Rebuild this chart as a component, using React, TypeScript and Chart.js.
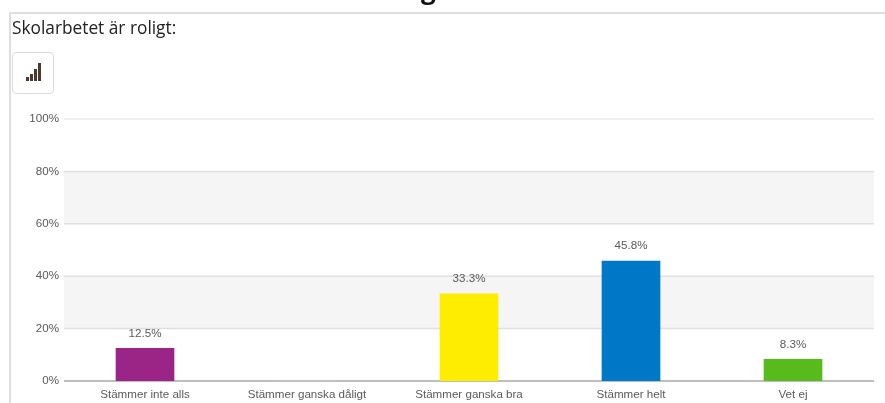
import React, { useEffect, useRef } from "react";
import { Chart, registerables } from "chart.js";

Chart.register(...registerables);

const categories = ["Stämmer inte alls", "Stämmer ganska dåligt", "Stämmer ganska bra", "Stämmer helt", "Vet ej"];
const values = [12.5, 0, 33.3, 45.8, 8.3];
const barColors = ["#9b2586", "#cccccc", "#ffed00", "#0078c8", "#57bb1b"];
const bands = [[20, 40], [60, 80]];
const heading = "Skolarbetet är roligt:";

const FONT = "'Liberation Sans', Arial, sans-serif";
const FONT_SIZE = 11.6;

const bandPlugin = {
  id: "bands",
  beforeDatasetsDraw(chart: any) {
    const { ctx, chartArea, scales } = chart;
    ctx.save();
    ctx.fillStyle = "#f5f5f5";
    for (const [lo, hi] of bands) {
      const top = scales.y.getPixelForValue(hi);
      const bottom = scales.y.getPixelForValue(lo);
      ctx.fillRect(chartArea.left, top, chartArea.right - chartArea.left, bottom - top);
    }
    ctx.restore();
  },
};

const gridPlugin = {
  id: "lines",
  beforeDatasetsDraw(chart: any) {
    const { ctx, chartArea, scales } = chart;
    ctx.save();
    for (const tick of scales.y.ticks) {
      const y = scales.y.getPixelForValue(tick.value);
      ctx.strokeStyle = tick.value === 0 ? "#a8a8a8" : "#e0e0e0";
      ctx.lineWidth = tick.value === 100 ? 1 : 1.5;
      ctx.beginPath();
      ctx.moveTo(chartArea.left, y);
      ctx.lineTo(chartArea.right, y);
      ctx.stroke();
    }
    ctx.restore();
  },
};

const labelPlugin = {
  id: "valueLabels",
  afterDatasetsDraw(chart: any) {
    const { ctx } = chart;
    const meta = chart.getDatasetMeta(0);
    ctx.save();
    ctx.font = `${FONT_SIZE}px ${FONT}`;
    ctx.fillStyle = "#5a5a5a";
    ctx.textAlign = "center";
    ctx.textBaseline = "bottom";
    meta.data.forEach((bar: any, i: number) => {
      if (values[i] > 0) ctx.fillText(`${values[i]}%`, bar.x, bar.y - 9);
    });
    ctx.restore();
  },
};

export default function App() {
  const ref = useRef<HTMLCanvasElement>(null);

  useEffect(() => {
    document.body.style.margin = "0";
    const chart = new Chart(ref.current!, {
      type: "bar",
      data: {
        labels: categories,
        datasets: [
          {
            data: values,
            backgroundColor: barColors,
            barThickness: 58,
          },
        ],
      },
      options: {
        animation: false,
        responsive: false,
        layout: { padding: { top: 119, right: 11, left: 0, bottom: 0 } },
        plugins: { legend: { display: false }, title: { display: false }, tooltip: { enabled: false } },
        scales: {
          x: {
            grid: { display: false, tickLength: 0 },
            border: { display: false },
            ticks: { color: "#5a5a5a", font: { family: FONT, size: FONT_SIZE }, padding: 7, maxRotation: 0, autoSkip: false },
            afterFit(scale: any) {
              scale.height = 22;
            },
          },
          y: {
            min: 0,
            max: 100,
            grid: { display: false, tickLength: 0 },
            border: { display: false },
            ticks: {
              stepSize: 20,
              color: "#5a5a5a",
              font: { family: FONT, size: FONT_SIZE },
              padding: 5,
              callback: (v: any) => `${v}%`,
            },
            afterFit(scale: any) {
              scale.width = 64;
            },
          },
        },
      },
      plugins: [bandPlugin, gridPlugin, labelPlugin],
    } as any);
    return () => chart.destroy();
  }, []);

  return (
    <div style={{ position: "relative", width: 885, height: 403, overflow: "hidden", background: "#fff" }}>
      <canvas ref={ref} width={885} height={403} style={{ position: "absolute", left: 0, top: 0 }} />
      <div style={{ position: "absolute", left: 10, top: 12, right: 0, height: 2, background: "#dedede" }} />
      <div style={{ position: "absolute", left: 9, top: 12, bottom: 0, width: 2, background: "#dedede" }} />
      <div
        style={{
          position: "absolute",
          left: 421,
          top: -26,
          font: "bold 26px 'Open Sans', sans-serif",
          lineHeight: "30px",
          color: "#111",
        }}
      >
        g
      </div>
      <div
        style={{
          position: "absolute",
          left: 12,
          top: 15,
          font: "17.3px 'Open Sans', sans-serif",
          lineHeight: "26px",
          color: "#222",
        }}
      >
        {heading}
      </div>
      <div
        style={{
          position: "absolute",
          left: 12,
          top: 52,
          width: 40,
          height: 40,
          border: "1px solid #dcdcdc",
          borderRadius: 4,
          background: "#fff",
        }}
      >
        {[4, 7, 12, 18].map((h, i) => (
          <span
            key={i}
            style={{
              position: "absolute",
              left: 13 + i * 4,
              bottom: 12,
              width: 3,
              height: h,
              background: "#4a3a2e",
            }}
          />
        ))}
      </div>
    </div>
  );
}
